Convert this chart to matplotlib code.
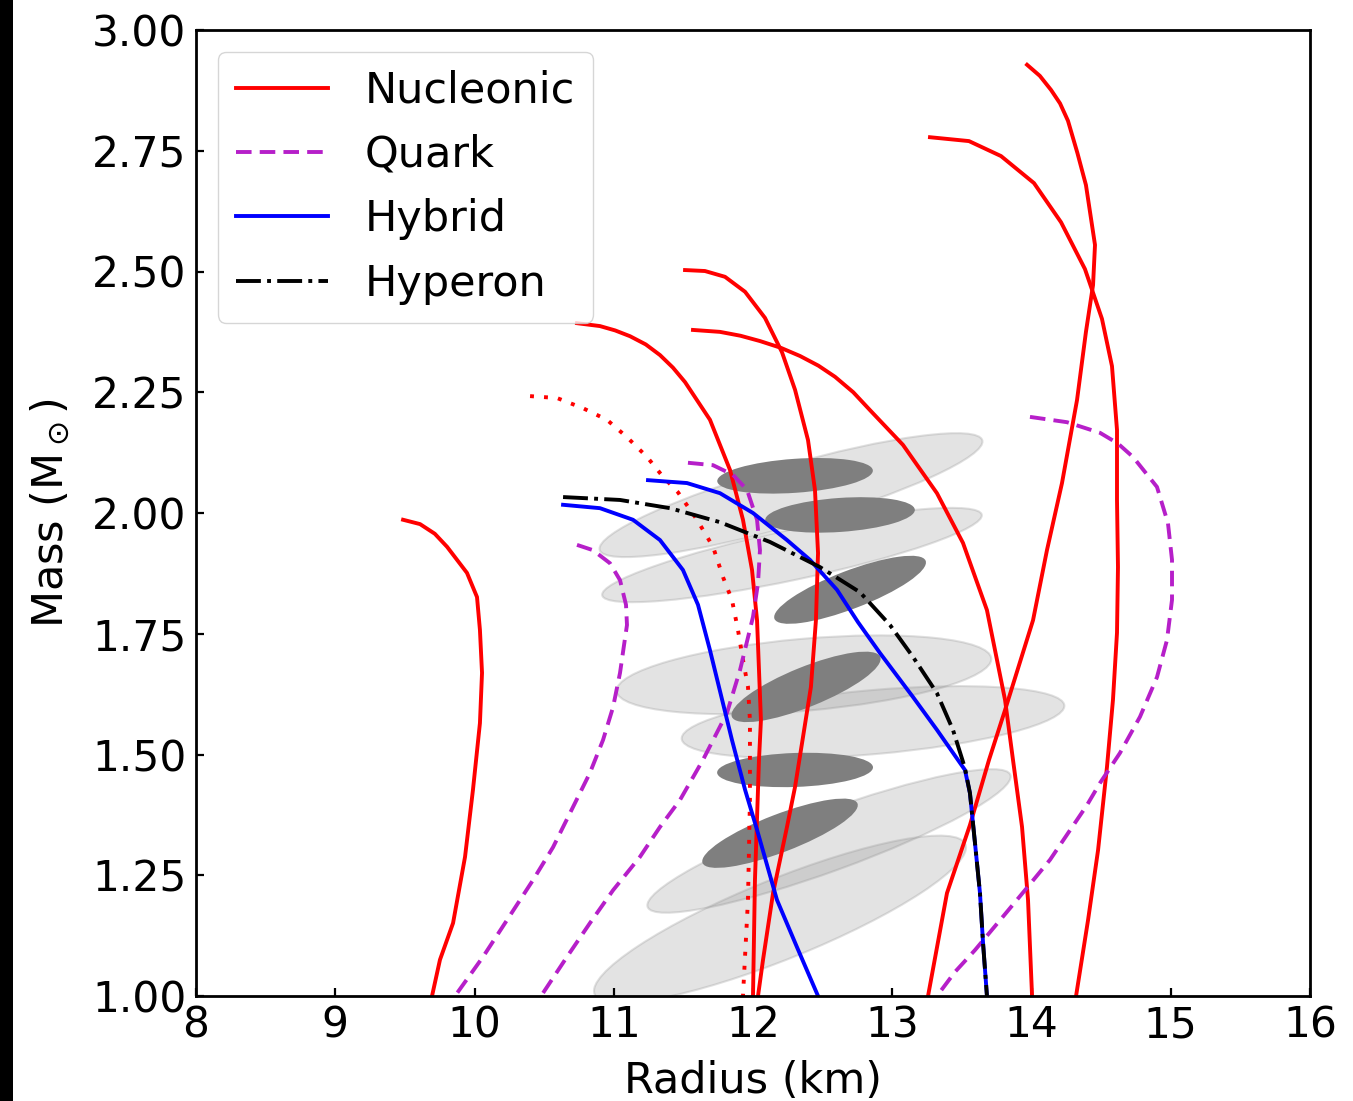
import matplotlib

matplotlib.use("Agg")
import matplotlib.pyplot as plt
from matplotlib.patches import Ellipse, Rectangle
from matplotlib.transforms import Affine2D

RED = "#ff0000"
MAGENTA = "#b61fc9"
BLUE = "#0000ff"
BLACK = "#000000"
FS_TICK = 30.5
FS_LABEL = 31
FS_LEG = 31

# Mass-radius sequences, radius in km, mass in solar masses.
# Nucleonic (solid red)
nuc1_r = [9.487, 9.609, 9.715, 9.803, 9.946, 10.018, 10.039, 10.054, 10.039,
          9.989, 9.932, 9.846, 9.752, 9.695]
nuc1_m = [1.986, 1.977, 1.957, 1.930, 1.876, 1.826, 1.758, 1.669, 1.565,
          1.427, 1.288, 1.151, 1.075, 1.000]

nuc2_r = [10.736, 10.901, 11.010, 11.117, 11.230, 11.332, 11.425, 11.512,
          11.691, 11.835, 11.928, 11.993, 12.029, 12.043, 12.057, 12.043,
          12.014, 12.000]
nuc2_m = [2.393, 2.387, 2.378, 2.366, 2.349, 2.327, 2.301, 2.271, 2.193,
          2.089, 1.986, 1.882, 1.778, 1.675, 1.571, 1.489, 1.240, 1.000]

nuc3_r = [11.512, 11.655, 11.799, 11.943, 12.086, 12.208, 12.302, 12.395,
          12.445, 12.467, 12.452, 12.416, 12.359, 12.302, 12.244, 12.144,
          12.072, 12.036]
nuc3_m = [2.503, 2.501, 2.489, 2.458, 2.404, 2.333, 2.255, 2.151, 2.048,
          1.917, 1.778, 1.640, 1.536, 1.433, 1.350, 1.213, 1.075, 1.000]

nuc4_r = [11.569, 11.763, 11.910, 12.050, 12.200, 12.338, 12.470, 12.589,
          12.720, 12.840, 13.077, 13.321, 13.508, 13.680, 13.810, 13.867,
          13.932, 13.975, 14.004]
nuc4_m = [2.379, 2.375, 2.367, 2.356, 2.342, 2.325, 2.305, 2.282, 2.250,
          2.213, 2.141, 2.041, 1.938, 1.799, 1.613, 1.489, 1.350, 1.199,
          1.000]

nuc5_r = [13.271, 13.551, 13.781, 14.018, 14.212, 14.384, 14.506, 14.578,
          14.614, 14.614, 14.621, 14.614, 14.585, 14.542, 14.478, 14.406,
          14.320]
nuc5_m = [2.778, 2.770, 2.739, 2.683, 2.602, 2.505, 2.402, 2.304, 2.172,
          2.027, 1.888, 1.752, 1.613, 1.474, 1.302, 1.157, 1.000]

nuc6_r = [13.968, 14.060, 14.140, 14.205, 14.262, 14.330, 14.391, 14.456,
          14.442, 14.391, 14.327, 14.219, 14.111, 14.011, 13.810, 13.695,
          13.558, 13.393, 13.257]
nuc6_m = [2.928, 2.905, 2.876, 2.848, 2.812, 2.745, 2.679, 2.555, 2.472,
          2.375, 2.234, 2.062, 1.923, 1.778, 1.592, 1.489, 1.354, 1.213,
          1.000]

# Nucleonic sequence drawn dotted
nucd_r = [10.399, 10.593, 10.779, 10.951, 11.095, 11.239, 11.354, 11.461,
          11.598, 11.713, 11.785, 11.849, 11.892, 11.928, 11.964, 11.978,
          11.978, 11.964, 11.928]
nucd_m = [2.242, 2.238, 2.217, 2.193, 2.157, 2.116, 2.075, 2.043, 1.986,
          1.930, 1.867, 1.820, 1.758, 1.696, 1.640, 1.571, 1.406, 1.199,
          1.000]

# Quark (dashed magenta)
qrk1_r = [10.736, 10.851, 10.973, 11.045, 11.088, 11.095, 11.074, 11.045,
          10.995, 10.923, 10.829, 10.707, 10.564, 10.420, 10.233, 10.061,
          9.860]
qrk1_m = [1.934, 1.923, 1.896, 1.861, 1.810, 1.768, 1.727, 1.669, 1.598,
          1.530, 1.462, 1.391, 1.308, 1.240, 1.157, 1.081, 1.000]

qrk2_r = [11.533, 11.713, 11.856, 11.957, 12.029, 12.050, 12.036, 12.000,
          11.907, 11.813, 11.641, 11.476, 11.332, 11.188, 10.995, 10.829,
          10.664, 10.478]
qrk2_m = [2.104, 2.099, 2.079, 2.048, 1.986, 1.923, 1.855, 1.785, 1.675,
          1.586, 1.489, 1.406, 1.350, 1.288, 1.219, 1.151, 1.081, 1.000]

qrk3_r = [13.989, 14.255, 14.492, 14.620, 14.729, 14.901, 14.980, 15.009,
          15.009, 14.973, 14.901, 14.779, 14.635, 14.492, 14.398, 14.262,
          14.133, 13.953, 13.774, 13.594, 13.451, 13.321]
qrk3_m = [2.199, 2.188, 2.166, 2.144, 2.116, 2.054, 1.979, 1.903, 1.820,
          1.737, 1.660, 1.578, 1.503, 1.441, 1.395, 1.337, 1.282, 1.219,
          1.157, 1.095, 1.050, 1.000]

# Hybrid (solid blue)
hyb1_r = [10.636, 10.901, 11.138, 11.332, 11.497, 11.605, 11.691, 11.770,
          11.849, 11.943, 12.029, 12.172, 12.316, 12.467]
hyb1_m = [2.017, 2.010, 1.986, 1.944, 1.882, 1.810, 1.716, 1.623, 1.530,
          1.427, 1.344, 1.199, 1.101, 1.000]

hyb2_r = [11.246, 11.526, 11.763, 12.000, 12.244, 12.409, 12.603, 12.754,
          12.912, 13.149, 13.321, 13.522, 13.558, 13.594, 13.630, 13.652,
          13.680]
hyb2_m = [2.068, 2.062, 2.041, 2.000, 1.944, 1.903, 1.841, 1.774, 1.710,
          1.619, 1.551, 1.468, 1.420, 1.317, 1.213, 1.110, 1.000]

# Hyperon (black dash-dot)
hyp_r = [10.636, 11.045, 11.404, 11.763, 12.122, 12.481, 12.768, 12.984,
         13.149, 13.321, 13.436, 13.522, 13.558, 13.594, 13.630, 13.652,
         13.680]
hyp_m = [2.033, 2.027, 2.010, 1.981, 1.940, 1.888, 1.836, 1.768, 1.702,
         1.627, 1.551, 1.472, 1.420, 1.317, 1.213, 1.110, 1.000]

# Observational M-R regions: centre (km, Msun), full axis lengths (km-equivalent),
# tilt of the major axis on the page (deg).
wide_r = [12.273, 12.280, 12.366, 12.862, 12.546, 12.194]
wide_m = [2.037, 1.913, 1.665, 1.567, 1.321, 1.159]
wide_w = [2.858, 2.786, 2.700, 2.758, 2.772, 2.872]
wide_h = [0.431, 0.359, 0.517, 0.460, 0.431, 0.575]
wide_tilt = [16, 12, 5, 5, 20, 22]

core_r = [12.302, 12.625, 12.697, 12.381, 12.302, 12.194]
core_m = [2.077, 1.996, 1.841, 1.640, 1.468, 1.337]
core_w = [1.120, 1.077, 1.163, 1.149, 1.120, 1.192]
core_h = [0.244, 0.244, 0.273, 0.287, 0.244, 0.273]
core_tilt = [4, 4, 21, 22, 2, 21]


def add_regions(ax, rs, ms, ws, hs, tilts, **style):
    # ellipses are defined in page-like units so the tilt reads as drawn
    bbox = ax.get_window_extent()
    k = (bbox.height / 2.0) / (bbox.width / 8.0)
    tr = Affine2D().scale(1.0, 1.0 / k) + ax.transData
    for r, m, w, h, t in zip(rs, ms, ws, hs, tilts):
        ax.add_patch(Ellipse((r, m * k), w, h, angle=t, transform=tr, **style))


def build_figure():
    fig = plt.figure(figsize=(13.53, 11.01), dpi=100)
    fig.patch.set_facecolor("white")
    ax = fig.add_axes([196 / 1353, 105 / 1101, 1114 / 1353, 966 / 1101])
    ax.set_xlim(8, 16)
    ax.set_ylim(1.0, 3.0)

    add_regions(ax, wide_r, wide_m, wide_w, wide_h, wide_tilt,
                facecolor=(0.5, 0.5, 0.5, 0.22), edgecolor=(0.6, 0.6, 0.6, 0.3),
                linewidth=1.5, zorder=1)
    add_regions(ax, core_r, core_m, core_w, core_h, core_tilt,
                facecolor="#7f7f7f", edgecolor="none", zorder=1.5)

    lw = 2.8
    nuc = [(nuc1_r, nuc1_m), (nuc2_r, nuc2_m), (nuc3_r, nuc3_m),
           (nuc4_r, nuc4_m), (nuc5_r, nuc5_m), (nuc6_r, nuc6_m)]
    for i, (r, m) in enumerate(nuc):
        ax.plot(r, m, color=RED, lw=lw, zorder=2,
                label="Nucleonic" if i == 0 else None)
    ax.plot(nucd_r, nucd_m, color=RED, lw=lw, ls=(0, (1, 2.6)), zorder=2)

    for i, (r, m) in enumerate([(qrk1_r, qrk1_m), (qrk2_r, qrk2_m),
                                (qrk3_r, qrk3_m)]):
        ax.plot(r, m, color=MAGENTA, lw=lw, ls=(0, (4.0, 2.1)), zorder=2,
                label="Quark" if i == 0 else None)

    for i, (r, m) in enumerate([(hyb1_r, hyb1_m), (hyb2_r, hyb2_m)]):
        ax.plot(r, m, color=BLUE, lw=lw, zorder=2,
                label="Hybrid" if i == 0 else None)

    ax.plot(hyp_r, hyp_m, color=BLACK, lw=lw, ls="-.", zorder=3,
            label="Hyperon")

    ax.set_xticks(range(8, 17))
    ax.set_yticks([1.00, 1.25, 1.50, 1.75, 2.00, 2.25, 2.50, 2.75, 3.00])
    ax.set_yticklabels([f"{v:.2f}" for v in ax.get_yticks()])
    ax.tick_params(direction="in", length=6, width=1.6, labelsize=FS_TICK,
                   colors="black")
    ax.tick_params(axis="x", pad=6)
    ax.tick_params(axis="y", pad=7)
    for spine in ax.spines.values():
        spine.set_linewidth(2.0)

    ax.set_xlabel("Radius (km)", fontsize=FS_LABEL, labelpad=10)
    ax.set_ylabel(r"Mass (M$_\odot$)", fontsize=FS_LABEL, labelpad=14)

    ax.legend(loc="upper left", fontsize=FS_LEG, handlelength=2.15,
              handletextpad=0.85, labelspacing=0.52, borderpad=0.42)

    # dark strip on the left edge of the source image
    fig.add_artist(Rectangle((0, 0), 13 / 1353, 1, transform=fig.transFigure,
                             facecolor="black", edgecolor="none"))
    return fig


def main():
    fig = build_figure()
    fig.savefig("out.png", dpi=100, facecolor=fig.get_facecolor())
    plt.close(fig)


if __name__ == "__main__":
    main()
